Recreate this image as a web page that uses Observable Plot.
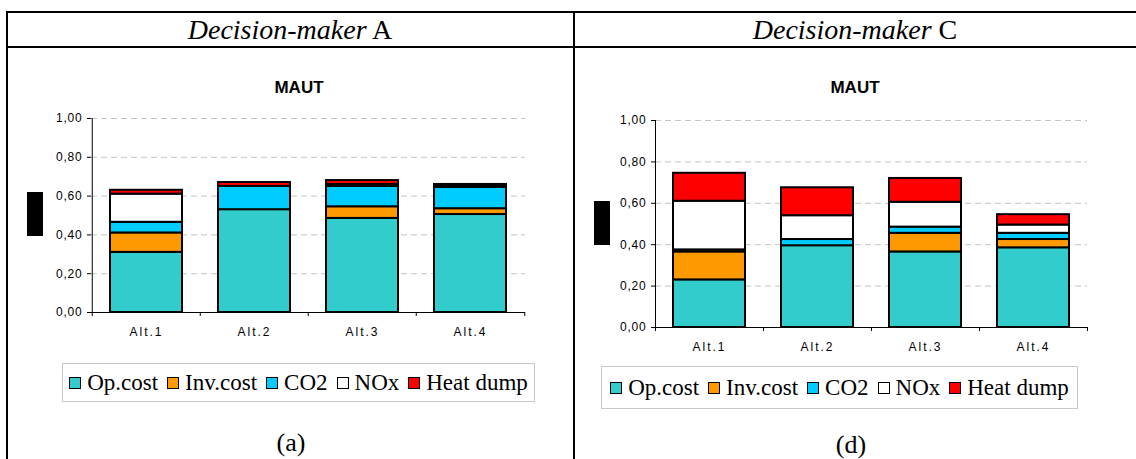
<!DOCTYPE html>
<html><head><meta charset="utf-8">
<script src="https://cdn.jsdelivr.net/npm/d3@7"></script>
<script src="https://cdn.jsdelivr.net/npm/@observablehq/plot@0.6"></script>
<style>
body{margin:0;width:1136px;height:459px;position:relative;overflow:hidden;background:#fff;}
.hline{position:absolute;height:2px;background:#000;}
.vline{position:absolute;width:2px;background:#000;}
.hdr{position:absolute;font-family:"Liberation Serif","Times New Roman",serif;font-size:28px;transform:translate(-50%,-50%);white-space:nowrap;color:#000;}
.ttl{position:absolute;font-family:"Liberation Sans",Arial,sans-serif;font-weight:bold;font-size:17px;transform:translate(-50%,-50%);white-space:nowrap;color:#000;}
.legend{position:absolute;border:1px solid #c8c8c8;box-sizing:border-box;display:flex;align-items:center;justify-content:center;font-family:"Liberation Serif","Times New Roman",serif;font-size:23px;white-space:nowrap;color:#000;}
.sw{display:inline-block;width:10px;height:10px;border:1.5px solid #000;margin:0 6px 0 9px;}
.sw.first{margin-left:0;}
.cap{position:absolute;font-family:"Liberation Serif","Times New Roman",serif;font-size:26px;transform:translate(-50%,-50%);white-space:nowrap;color:#000;}
.blk{position:absolute;background:#000;}
.plotbox{position:absolute;}
</style>
</head>
<body>
<div class="hline" style="left:6px;top:11px;width:1130px"></div>
<div class="hline" style="left:6px;top:46px;width:1130px"></div>
<div class="vline" style="left:6px;top:11px;height:448px"></div>
<div class="vline" style="left:573px;top:11px;height:448px"></div>
<div class="hdr" style="left:290px;top:30px"><i>Decision-maker</i> A</div>
<div class="hdr" style="left:855px;top:30px"><i>Decision-maker</i> C</div>
<div class="ttl" style="left:299px;top:88px">MAUT</div>
<div class="ttl" style="left:855px;top:88px">MAUT</div>
<div class="blk" style="left:27px;top:192px;width:16px;height:44px"></div>
<div class="blk" style="left:594px;top:201px;width:16px;height:44px"></div>
<div id="plotA" class="plotbox" style="left:40px;top:100px"></div>
<div id="plotC" class="plotbox" style="left:600px;top:100px"></div>
<div id="legA" class="legend" style="left:62px;top:363px;width:473px;height:39px"></div>
<div id="legC" class="legend" style="left:601px;top:366px;width:477px;height:43px"></div>
<div class="cap" style="left:291px;top:443px">(a)</div>
<div class="cap" style="left:851px;top:445px">(d)</div>
<script>
const alts = ["Alt.1", "Alt.2", "Alt.3", "Alt.4"];
const series = ["Op.cost", "Inv.cost", "CO2", "NOx", "Heat dump"];
const colors = ["#33CCCC", "#FF9900", "#00CCFF", "#FFFFFF", "#FF0000"];
const yTicks = [0, 0.2, 0.4, 0.6, 0.8, 1.0];

// Decision-maker A (a)
const opCostA  = [0.31, 0.53, 0.485, 0.505];
const invCostA = [0.10, 0.00, 0.06, 0.03];
const co2A     = [0.055, 0.12, 0.105, 0.11];
const noxA     = [0.145, 0.00, 0.01, 0.01];
const heatA    = [0.02, 0.02, 0.02, 0.005];

// Decision-maker C (d)
const opCostC  = [0.23, 0.395, 0.365, 0.385];
const invCostC = [0.135, 0.00, 0.09, 0.04];
const co2C     = [0.01, 0.03, 0.03, 0.03];
const noxC     = [0.235, 0.115, 0.12, 0.04];
const heatC    = [0.135, 0.135, 0.115, 0.05];

function table(cols) {
  const rows = [];
  alts.forEach((a, i) => series.forEach((s, j) => rows.push({alt: a, series: s, value: cols[j][i]})));
  return rows;
}

const fmt = d => d3.format(".2f")(d).replace(".", ",");

function chart(rows, {width, height, mL, mR, mT, mB}) {
  const step = (width - mL - mR) / alts.length;
  const tickLen = 4 / (height - mT - mB);
  const plot = Plot.plot({
    width, height, marginLeft: mL, marginRight: mR, marginTop: mT, marginBottom: mB,
    style: {fontFamily: '"Liberation Sans", Arial, sans-serif', fontSize: "12px", color: "#000", background: "transparent", overflow: "visible"},
    x: {domain: alts, paddingInner: 0.33, paddingOuter: 0.165, label: null},
    y: {domain: [0, 1], label: null},
    color: {domain: series, range: colors},
    marks: [
      Plot.gridY(yTicks.slice(1), {stroke: "#c4c4c4", strokeOpacity: 1, strokeDasharray: "6,4"}),
      Plot.barY(rows, {x: "alt", y: "value", fill: "series", stroke: "#000", strokeWidth: 2}),
      Plot.ruleY([0], {stroke: "#000"}),
      Plot.ruleX(alts, {x: d => d, y1: -tickLen, y2: (d, i) => i === 0 ? 1 : 0, dx: -step / 2, stroke: "#000"}),
      Plot.ruleX(alts.slice(-1), {x: d => d, y1: -tickLen, y2: 0, dx: step / 2, stroke: "#000"}),
      Plot.axisY(yTicks, {tickSize: 4, tickPadding: 5, tickFormat: fmt, label: null}),
      Plot.axisX({tickSize: 0, tickPadding: 15, label: null})
    ]
  });
  plot.querySelectorAll('g[aria-label="x-axis tick label"] text').forEach(t => t.style.letterSpacing = "2px");
  plot.querySelectorAll('g[aria-label="y-axis tick label"] text').forEach(t => t.style.letterSpacing = "0.8px");
  return plot;
}

document.getElementById("plotA").appendChild(
  chart(table([opCostA, invCostA, co2A, noxA, heatA]), {width: 500, height: 250, mL: 51, mR: 15, mT: 18, mB: 38}));
document.getElementById("plotC").appendChild(
  chart(table([opCostC, invCostC, co2C, noxC, heatC]), {width: 500, height: 260, mL: 55, mR: 13, mT: 20, mB: 33}));

function legend(el) {
  series.forEach((s, i) => {
    const sw = document.createElement("span");
    sw.className = "sw" + (i === 0 ? " first" : "");
    sw.style.background = colors[i];
    el.appendChild(sw);
    const t = document.createElement("span");
    t.textContent = s;
    el.appendChild(t);
  });
}
legend(document.getElementById("legA"));
legend(document.getElementById("legC"));
</script>
</body></html>
